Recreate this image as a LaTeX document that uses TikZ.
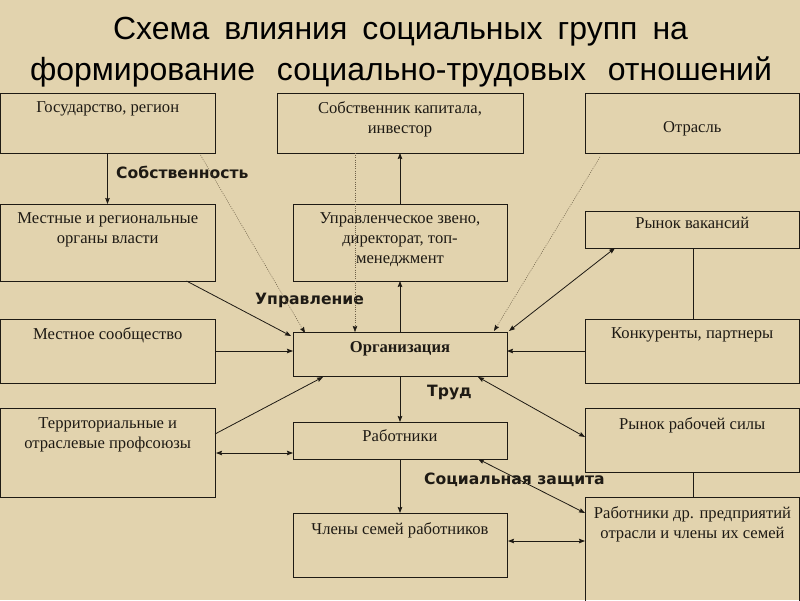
\documentclass[tikz,border=0pt]{standalone}
\usepackage{fontspec}
\setmainfont{Liberation Serif}
\newfontfamily\tfont{Liberation Sans}
\newfontfamily\lfont{DejaVu Sans}
\usetikzlibrary{arrows.meta,calc}
\definecolor{bg}{RGB}{226,211,174}
\definecolor{ln}{RGB}{30,26,20}
\definecolor{dotc}{RGB}{110,96,72}
\tikzset{
  box/.style={draw=ln, line width=0.9pt, rectangle, inner sep=0pt, outer sep=0pt},
  txt/.style={inner sep=0pt, align=center, font=\fontsize{16.6}{20}\selectfont, text=ln},
  lbl/.style={inner sep=0pt, font=\lfont\bfseries\fontsize{15.6}{18}\selectfont, text=ln},
  ttl/.style={inner sep=0pt, font=\tfont\fontsize{32}{38}\selectfont, text=black},
  tip/.tip={Stealth[length=6pt,width=4.5pt,inset=0.8pt]},
  arr/.style={draw=ln, line width=0.8pt, -tip},
  darr/.style={draw=ln, line width=0.8pt, tip-tip},
  plain/.style={draw=ln, line width=0.8pt},
  dotarr/.style={draw=dotc, line width=0.5pt, dash pattern=on 1pt off 1.2pt, -{Stealth[length=6pt,width=4.5pt,inset=0.8pt,ln,sep=0pt]}},
}
\newcommand\bx[5]{\node[box, anchor=north west, minimum width={#4-#2}, minimum height={#5-#3}] (#1) at (#2,#3) {};}
\begin{document}
\begin{tikzpicture}[x=1pt,y=-1pt]
\path[use as bounding box, fill=bg] (0,0) rectangle (800,600);
\clip (0,0) rectangle (800,600);
% title
\node[ttl, anchor=base] (t1) at (400.5,39) {\makebox[575pt][s]{Схема влияния социальных групп на}};
\node[ttl, anchor=base] (t2) at (401,80) {\makebox[742pt][s]{формирование социально-трудовых отношений}};
% boxes
\bx{gos}{0.5}{93}{215}{153}
\bx{sob}{277}{93}{523}{153}
\bx{otr}{585}{93}{799.5}{153}
\bx{mest}{0.5}{204}{215}{281}
\bx{upr}{293}{204}{507}{281}
\bx{rv}{585}{211}{799.5}{248}
\bx{ms}{0.5}{319}{215}{383}
\bx{org}{293}{332}{507}{376}
\bx{kp}{585}{319}{799.5}{383}
\bx{terr}{0.5}{408}{215}{497}
\bx{rab}{293}{422}{507}{459}
\bx{rrs}{585}{408}{799.5}{472}
\bx{chl}{293}{513}{507}{577}
\bx{rdr}{585}{497}{799.5}{620}
% box texts
\node[txt, anchor=north] (tgos) at ($(gos.north)+(0,101-93)$) {Государство, регион};
\node[txt, anchor=north] (tsob) at ($(sob.north)+(0,101-93)$) {Собственник капитала,\\инвестор};
\node[txt, anchor=north] (totr) at ($(otr.north)+(0,121-93)$) {Отрасль};
\node[txt, anchor=north] (tmest) at ($(mest.north)+(0,212-204)$) {Местные и региональные\\органы власти};
\node[txt, anchor=north] (tupr) at ($(upr.north)+(0,212-204)$) {Управленческое звено,\\директорат, топ-\\менеджмент};
\node[txt, anchor=north] (trv) at ($(rv.north)+(0,217-211)$) {Рынок вакансий};
\node[txt, anchor=north] (tms) at ($(ms.north)+(0,327-319)$) {Местное сообщество};
\node[txt, anchor=north, font=\bfseries\fontsize{16.6}{20}\selectfont] (torg) at ($(org.north)+(0,341-332)$) {Организация};
\node[txt, anchor=north] (tkp) at ($(kp.north)+(0,327-319)$) {Конкуренты, партнеры};
\node[txt, anchor=north] (tterr) at ($(terr.north)+(0,417-408)$) {Территориальные и\\отраслевые профсоюзы};
\node[txt, anchor=north] (trab) at ($(rab.north)+(0,429-422)$) {Работники};
\node[txt, anchor=north] (trrs) at ($(rrs.north)+(0,417-408)$) {Рынок рабочей силы};
\node[txt, anchor=north] (tchl) at ($(chl.north)+(0,522-513)$) {Члены семей работников};
\node[txt, anchor=north] (trdr) at (692.5,506) {Работники др. предприятий\\отрасли и члены их семей};
% labels
\node[lbl, anchor=west] (lsob) at (116,172) {Собственность};
\node[lbl, anchor=west] (lupr) at (255,300) {Управление};
\node[lbl, anchor=west] (ltrud) at (427,392) {Труд};
\node[lbl, anchor=west] (lsoc) at (424,480) {Социальная защита};
% connectors
\draw[arr] ($(gos.south west)+(107,0)$) -- ($(mest.north west)+(107,0)$);
\draw[dotarr] ($(gos.south west)+(200,2)$) -- ($(org.north west)+(12,1)$);
\draw[dotarr] ($(sob.south west)+(78,0)$) -- ($(org.north west)+(62,0)$);
\draw[arr] (upr.north) -- (sob.south);
\draw[arr] (org.north) -- (upr.south);
\draw[dotarr] ($(otr.south west)+(15,4)$) -- ($(org.north east)+(-13,-1)$);
\draw[darr] ($(rv.south west)+(30,0)$) -- ($(org.north east)+(2,-1)$);
\draw[arr] ($(mest.south west)+(186,0)$) -- ($(org.north west)+(-2,4)$);
\draw[arr] (ms.east) -- (ms.east -| org.west);
\draw[arr] ($(terr.north east)+(0,26)$) -- ($(org.south west)+(30,1)$);
\draw[darr] ($(terr.north east)+(1,45)$) coordinate (tr1) -- (tr1 -| rab.west);
\draw[arr] (kp.west) -- (kp.west -| org.east);
\draw[darr] ($(org.south east)+(-29,1)$) -- ($(rrs.north west)+(0,29)$);
\draw[arr] (org.south) -- (rab.north);
\draw[darr] ($(rab.south east)+(-29,0)$) -- ($(rdr.north west)+(0,16)$);
\draw[arr] (rab.south) -- (chl.north);
\draw[darr] ($(chl.north east)+(1,28)$) coordinate (ch1) -- (ch1 -| rdr.west);
\draw[plain] ($(rv.south west)+(108,0)$) -- ($(kp.north west)+(108,0)$);
\draw[plain] ($(rrs.south west)+(108,0)$) -- ($(rdr.north west)+(108,0)$);
\end{tikzpicture}
\end{document}
